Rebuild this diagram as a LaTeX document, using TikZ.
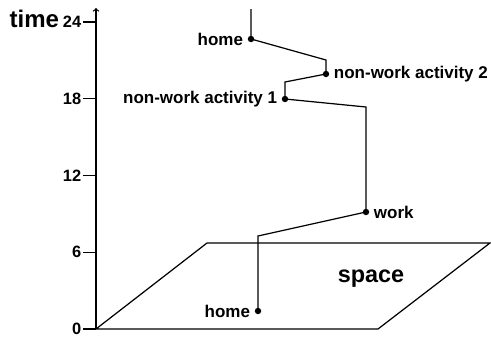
\documentclass[tikz,border=0pt]{standalone}
\usepackage{fontspec}
\setmainfont{Liberation Sans}
\usetikzlibrary{positioning}
\tikzset{
  stop/.style={circle,fill,inner sep=0pt,minimum size=5.5pt},
  activity/.style={font=\bfseries\fontsize{14.5}{16}\selectfont,inner sep=2pt},
  ticklabel/.style={font=\bfseries\fontsize{14}{16}\selectfont,anchor=east,inner sep=1pt},
}

\begin{document}
\begin{tikzpicture}[x=0.03cm,y=-0.03cm,line width=1.05pt]
    \useasboundingbox (0,0) rectangle (491,337);
    % time axis
    \coordinate (origin) at (96,329);
    \coordinate (top) at (96,8);
    \draw[->] (origin) -- (top);
    \node[font=\bfseries\fontsize{20.5}{24}\selectfont,anchor=base west,inner sep=0pt] (timelabel) at (9,28) {time};
    \foreach \h in {0,6,12,18,24} {
        \node[ticklabel] (t\h) at (83,{329-12.79*\h}) {\h};
        \draw (t\h.east) -- (origin |- t\h.east);
    }
    % space plane
    \coordinate (p2) at (378,329);
    \coordinate (p3) at (490,243);
    \coordinate (p4) at (207,243);
    \draw (origin) -- (p2) -- (p3) -- (p4) -- cycle;
    \node[font=\bfseries\fontsize{20}{22}\selectfont] (space) at (371,279) {space};
    % space-time path
    \node[stop] (home1) at (258,311) {};
    \coordinate (b1) at (258,236);
    \node[stop] (work) at (366,212) {};
    \coordinate (b2) at (366,107);
    \node[stop] (act1) at (285,99) {};
    \coordinate (b3) at (285,82);
    \node[stop] (act2) at (326,74) {};
    \coordinate (b4) at (326,60);
    \node[stop] (home2) at (251,39) {};
    \coordinate (end) at (251,9);
    \draw (home1.center) -- (b1) -- (work.center) -- (b2) -- (act1.center) -- (b3)
        -- (act2.center) -- (b4) -- (home2.center) -- (end);
    \node[activity,left=1pt of home1] (home1lab) {home};
    \node[activity,right=1pt of work] (worklab) {work};
    \node[activity,left=1pt of act1] (act1lab) {non-work activity 1};
    \node[activity,right=1pt of act2] (act2lab) {non-work activity 2};
    \node[activity,left=1pt of home2] (home2lab) {home};
\end{tikzpicture}
\end{document}
